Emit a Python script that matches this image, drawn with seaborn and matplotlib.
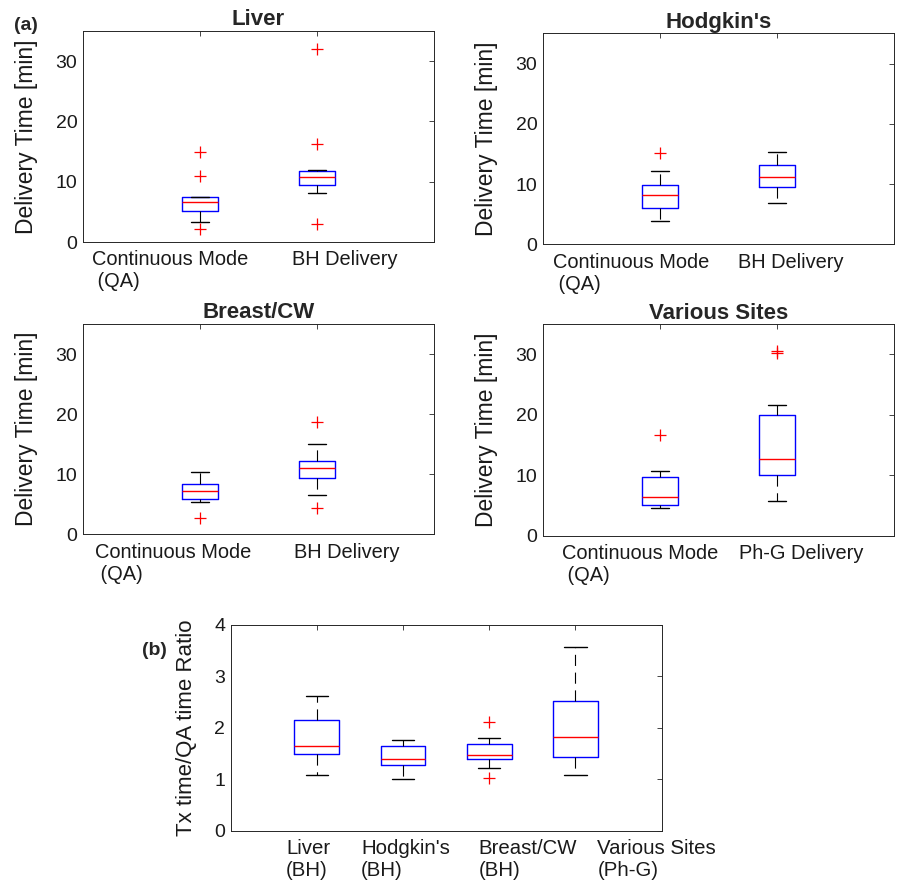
import matplotlib
matplotlib.use("Agg")
import matplotlib.pyplot as plt
import matplotlib.transforms as mtransforms
import seaborn as sns

sns.set_style("white")
plt.rcParams['font.family'] = ['Liberation Sans', 'DejaVu Sans']

# (a) delivery time [min], continuous mode (QA) vs gated delivery
titles = ["Liver", "Hodgkin's", "Breast/CW", "Various Sites"]
labels_a = [["Continuous Mode\n (QA)", "BH Delivery"],
            ["Continuous Mode\n (QA)", "BH Delivery"],
            ["Continuous Mode\n (QA)", "BH Delivery"],
            ["Continuous Mode\n (QA)", "Ph-G Delivery"]]
med_a = [[6.7, 10.8], [8.2, 11.2], [7.2, 11.0], [6.45, 12.7]]
q1_a = [[5.1, 9.4], [6.1, 9.55], [5.9, 9.3], [5.15, 10.1]]
q3_a = [[7.55, 11.85], [9.8, 13.1], [8.3, 12.2], [9.8, 20.0]]
lo_a = [[3.3, 8.15], [3.9, 6.9], [5.4, 6.55], [4.6, 5.7]]
hi_a = [[7.55, 12.0], [12.2, 15.3], [10.4, 15.0], [10.8, 21.7]]
fl_a = [[[15.0, 10.9, 2.2], [32.0, 16.2, 3.0]],
        [[15.1], []],
        [[2.8], [18.7, 4.45]],
        [[16.7], [30.6, 30.15]]]

# (b) Tx time / QA time ratio
labels_b = ["Liver\n(BH)", "Hodgkin's\n(BH)", "Breast/CW\n(BH)", "Various Sites\n(Ph-G)"]
med_b = [1.65, 1.40, 1.47, 1.82]
q1_b = [1.49, 1.28, 1.395, 1.43]
q3_b = [2.15, 1.65, 1.69, 2.52]
lo_b = [1.09, 1.005, 1.225, 1.08]
hi_b = [2.61, 1.77, 1.80, 3.57]
fl_b = [[], [], [2.12, 1.02], []]

frame = (0.15, 0.15, 0.15)
txt = (0.1, 0.1, 0.1)


def draw_boxes(ax, med, q1, q3, lo, hi, fl, width):
    stats = []
    for i in range(len(med)):
        stats.append(dict(med=med[i], q1=q1[i], q3=q3[i], whislo=lo[i], whishi=hi[i], fliers=fl[i]))
    ax.bxp(stats, positions=range(1, len(med) + 1), widths=width,
           boxprops=dict(color="blue", lw=1.0),
           medianprops=dict(color="red", lw=1.0),
           whiskerprops=dict(color="black", lw=0.8, linestyle=(0, (10, 6))),
           capprops=dict(color="black", lw=1.0),
           flierprops=dict(marker="+", markeredgecolor="red", markersize=8, markeredgewidth=0.9))


def style(ax, ylim, yticks, xlim, xsize):
    ax.set_xlim(xlim)
    ax.set_ylim(ylim)
    ax.set_yticks(yticks)
    ax.tick_params(direction="in", length=3.5, width=0.6, top=True, right=True,
                   colors=frame, labelcolor=txt)
    ax.tick_params(axis="y", labelsize=14, pad=4)
    ax.tick_params(axis="x", labelsize=xsize, pad=6)
    for s in ax.spines.values():
        s.set_color(frame)
        s.set_linewidth(0.7)


def shift_labels(fig, ax, offsets):
    for t, dx in zip(ax.get_xticklabels(), offsets):
        t.set_ha("left")
        t.set_multialignment("left")
        t.set_linespacing(1.2)
        t.set_transform(t.get_transform() + mtransforms.ScaledTranslation(dx / 100, 0, fig.dpi_scale_trans))


fig = plt.figure(figsize=(8.99, 8.83), dpi=100)

pos_a = [[0.0923, 0.7259, 0.3904, 0.239],
         [0.604, 0.7232, 0.3904, 0.239],
         [0.0923, 0.3948, 0.3904, 0.2383],
         [0.604, 0.393, 0.3904, 0.240]]
offs_a = [[-108, -25], [-107, -39], [-105, -23], [-98, -38]]

for k in range(4):
    ax = fig.add_axes(pos_a[k])
    draw_boxes(ax, med_a[k], q1_a[k], q3_a[k], lo_a[k], hi_a[k], fl_a[k], 0.31)
    style(ax, (0, 35), [0, 10, 20, 30], (0, 3), 14.4)
    ax.set_xticks([1, 2])
    ax.set_xticklabels(labels_a[k])
    shift_labels(fig, ax, offs_a[k])
    ax.set_ylabel("Delivery Time [min]", fontsize=16.5, color=txt, labelpad=13)
    ax.set_title(titles[k], fontsize=16, fontweight="bold", pad=4)

axb = fig.add_axes([0.2566, 0.0592, 0.4794, 0.233])
draw_boxes(axb, med_b, q1_b, q3_b, lo_b, hi_b, fl_b, 0.52)
style(axb, (0, 4), [0, 1, 2, 3, 4], (0, 5), 14.7)
axb.set_xticks([1, 2, 3, 4])
axb.set_xticklabels(labels_b)
shift_labels(fig, axb, [-31, -42, -11, 22])
axb.set_ylabel("Tx time/QA time Ratio", fontsize=16, color=txt, labelpad=12)

fig.text(0.016, 0.966, "(a)", fontsize=14, fontweight="bold")
fig.text(0.158, 0.258, "(b)", fontsize=14, fontweight="bold")

fig.savefig("out.png", dpi=100)
